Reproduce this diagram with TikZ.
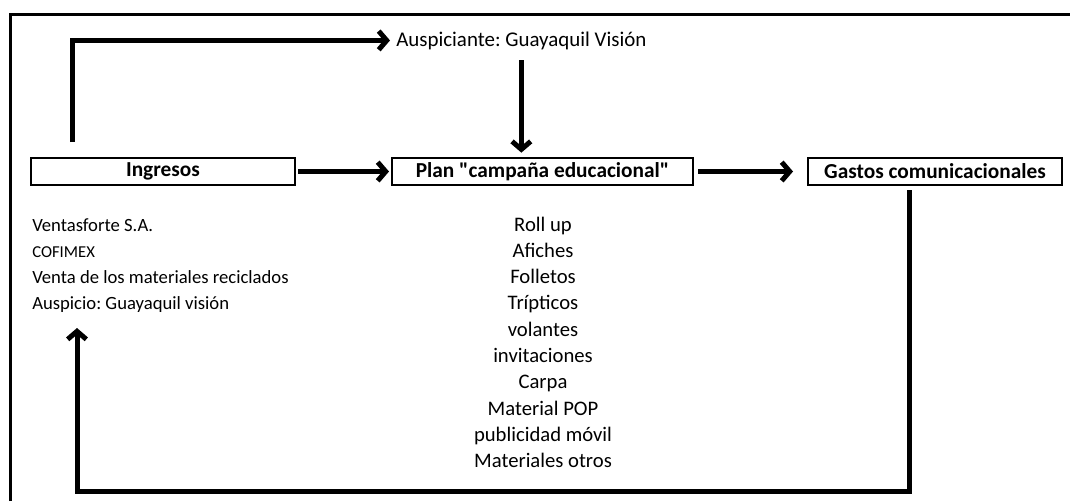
\documentclass[tikz,border=0pt]{standalone}
\usepackage{fontspec}
\setmainfont{Carlito}[Ligatures=TeXOff]
\usetikzlibrary{arrows.meta}
\frenchspacing

\begin{document}
\begin{tikzpicture}[x=0.75pt, y=-0.75pt,
    caja/.style={draw=borderColour, line width=2pt, minimum height=20.25pt,
      inner sep=0pt, outer sep=0pt, font=\fontsize{16}{19}\selectfont\bfseries},
    flecha/.style={draw=borderColour, line width=3.75pt,
      -{Straight Barb[length=6pt,width=14pt]}},
    texto/.style={inner sep=0pt, font=\fontsize{15.5}{18}\selectfont},
    fuente/.style={texto, anchor=base west, font=\fontsize{14}{17}\selectfont}]
    % Define colours
    \definecolor{borderColour}{HTML}{000000}

    % Define row spacing of the lists
    \def\rowTop{231}
    \def\rowStep{26.3}

  \useasboundingbox (0,0) rectangle (1070,501);

  % Draw the frame
  \draw[borderColour, line width=2.25pt] (10,501) -- (10,14) -- (1070,14);

  % Boxes of the main row
  \node[caja, minimum width=198pt] (ingresos) at (163,171.5) {Ingresos};
  \node[caja, minimum width=225.75pt] (plan) at (542.5,171.5) {Plan "campaña educacional"};
  \node[caja, minimum width=190.5pt] (gastos) at (935,171.5) {Gastos comunicacionales};

  % Sponsor on top
  \node[texto, anchor=base west, font=\fontsize{15.7}{18}\selectfont] (auspiciante) at (396,46) {Auspiciante: Guayaquil Visión};

  % Arrows between the boxes
  \coordinate (inicio) at (72,142);
  \draw[flecha] (inicio) |- ([xshift=-4.5pt]auspiciante.west);
  \draw[flecha, shorten <=8pt, shorten >=4pt] (auspiciante.south) -- (auspiciante.south |- plan.north);
  \draw[flecha, shorten <=2.25pt, shorten >=2.25pt] (ingresos) -- (plan);
  \draw[flecha, shorten <=3.75pt, shorten >=11.25pt] (plan) -- (gastos);

  % Return arrow back to the income list
  \coordinate (retorno) at (77,328);
  \draw[flecha, shorten <=3.75pt] ([xshift=-19.5pt]gastos.south) -- ++(0,306) -| (retorno);

  % Income list
  \node[fuente] (fuente0) at (32,\rowTop) {Ventasforte S.A.};
  \node[fuente, font=\fontsize{12.5}{15}\selectfont] (fuente1) at (32,\rowTop+\rowStep) {COFIMEX};
  \node[fuente] (fuente2) at (32,\rowTop+2*\rowStep) {Venta de los materiales reciclados};
  \node[fuente] (fuente3) at (32,\rowTop+3*\rowStep) {Auspicio: Guayaquil visión};

  % Material list
  \foreach \material [count=\i from 0] in {Roll up, Afiches, Folletos, Trípticos, volantes,
      invitaciones, Carpa, Material POP, publicidad móvil, Materiales otros}
    \node[texto, anchor=base] (material\i) at (543,\rowTop+\i*\rowStep) {\material};

\end{tikzpicture}
\end{document}
